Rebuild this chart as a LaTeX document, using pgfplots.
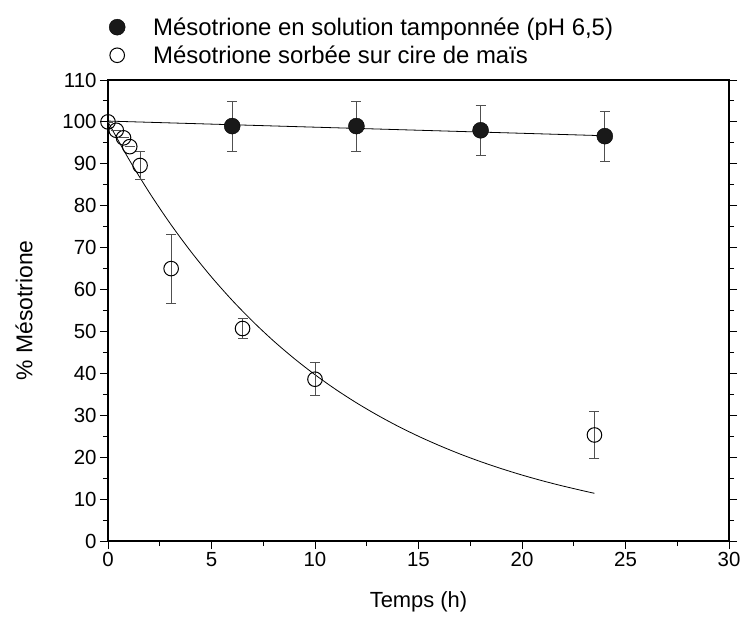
\documentclass[border=0pt]{standalone}
\usepackage{fontspec}
\setmainfont{Liberation Sans}
\usepackage{pgfplots}
\pgfplotsset{compat=1.18}
\definecolor{errgray}{RGB}{80,80,80}
\begin{document}
\begin{tikzpicture}
\begin{axis}[
  width=621bp, height=461bp, scale only axis,
  xmin=0, xmax=30, ymin=0, ymax=110,
  xtick={0,5,...,30}, ytick={0,10,...,110},
  minor x tick num=1, minor y tick num=1,
  xtick pos=bottom, ytick pos=both, tick align=outside,
  major tick length=8bp, minor tick length=5bp,
  every tick/.style={black, line width=0.9bp},
  axis line style={line width=1.6bp},
  tick label style={font=\fontsize{20.5}{24}\selectfont},
  /pgf/number format/assume math mode=true,
  xlabel={Temps (h)}, ylabel={\% Mésotrione},
  xlabel style={font=\fontsize{22}{26}\selectfont,
    at={(axis description cs:0.5,-0.133)}, anchor=center},
  ylabel style={font=\fontsize{23}{27}\selectfont,
    at={(axis description cs:-0.135,0.5)}, anchor=center},
  legend style={at={(axis description cs:0,1)}, anchor=south west,
    xshift=1bp, yshift=13bp,
    draw=none, fill=none, inner sep=0pt,
    font=\fontsize{24}{28}\selectfont,
    row sep=5bp, column sep=26bp, legend cell align=left},
  legend image code/.code={\draw[#1] plot coordinates {(8bp,0bp)};},
]
% fitted curves
\addplot[forget plot, black, line width=0.8bp] coordinates {(0,100.2) (24,96.7)};
\addplot[forget plot, black, line width=0.8bp, smooth] coordinates {
  (0,100) (1,91.17) (2,83.12) (3,75.78) (4,69.09) (5,62.99) (6,57.43)
  (7,52.36) (8,47.73) (9,43.52) (10,39.68) (11,36.17) (12,32.98)
  (13,30.07) (14,27.41) (15,24.99) (16,22.79) (17,20.77) (18,18.94)
  (19,17.27) (20,15.74) (21,14.35) (22,13.09) (23,11.93) (23.5,11.38)};
% buffered solution
\addplot[only marks, mark=*, mark size=8bp, mark options={fill=black!90, draw=black},
  error bars/.cd, y dir=both, y explicit,
  error bar style={errgray, line width=0.8bp},
  error mark options={rotate=90, mark size=5bp, errgray, line width=0.8bp}]
  table[x=t, y=m, y error=e] {
  t   m     e
  6   99.0  6.0
  12  99.0  6.0
  18  98.0  6.0
  24  96.6  6.0
};
% sorbed on corn wax
\addplot[only marks, mark=o, mark size=7.3bp, mark options={fill=white, draw=black, line width=1bp},
  error bars/.cd, y dir=both, y explicit,
  error bar style={errgray, line width=0.8bp},
  error mark options={rotate=90, mark size=5bp, errgray, line width=0.8bp}]
  table[x=t, y=m, y error=e] {
  t     m     e
  0     100.0 0
  0.4   98.0  0
  0.75  96.2  0
  1.05  94.1  0
  1.55  89.6  3.4
  3.05  65.0  8.2
  6.5   50.7  2.4
  10.0  38.6  3.9
  23.5  25.3  5.6
};
\legend{{Mésotrione en solution tamponnée (pH 6,5)}, {Mésotrione sorbée sur cire de maïs}}
\end{axis}
\pgfresetboundingbox
\path (-108bp,-76bp) rectangle (632bp,541bp);
\end{tikzpicture}
\end{document}
